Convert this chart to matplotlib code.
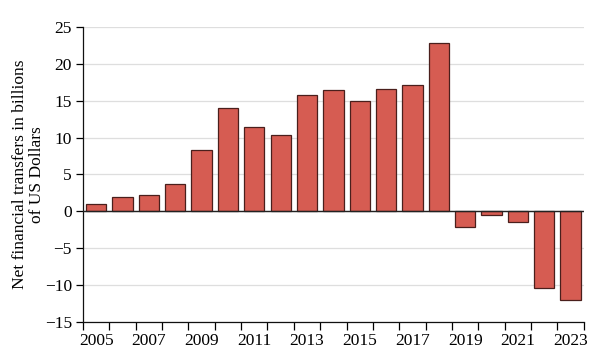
import matplotlib.pyplot as plt
from matplotlib.ticker import FixedLocator, FuncFormatter

# data
years = list(range(2005, 2024))
transfers = [1.0, 1.95, 2.2, 3.65, 8.3, 14.0, 11.4, 10.3, 15.75, 16.4,
             14.9, 16.55, 17.1, 22.8, -2.1, -0.5, -1.5, -10.4, -12.0]
label_years = list(range(2005, 2024, 2))
y_ticks = [-15, -10, -5, 0, 5, 10, 15, 20, 25]

bar_color = '#d65c52'
edge_color = '#4a1f1c'

plt.rcParams['font.family'] = ['Liberation Serif', 'DejaVu Serif']

fig = plt.figure(figsize=(6.10, 3.56), dpi=100)
ax = fig.add_axes([0.136, 0.0955, 0.821, 0.829])

ax.bar(years, transfers, width=0.77, color=bar_color, edgecolor=edge_color,
       linewidth=0.9, zorder=3)

ax.set_xlim(2004.5, 2023.5)
ax.set_ylim(-15, 25)

# grid
ax.set_yticks(y_ticks)
ax.yaxis.grid(True, color='#dedede', linewidth=0.9, zorder=0)
ax.axhline(0, color='#222222', linewidth=1.0, zorder=4)

# x: labels at odd years, tick marks between bars
ax.xaxis.set_major_locator(FixedLocator(label_years))
ax.xaxis.set_minor_locator(FixedLocator([y + 0.5 for y in range(2004, 2024)]))
ax.tick_params(axis='x', which='major', length=0, pad=8, labelsize=12.5)
ax.tick_params(axis='x', which='minor', length=6, width=0.9, direction='out')
ax.tick_params(axis='y', length=5, width=0.9, pad=3, labelsize=12.5)
ax.yaxis.set_major_formatter(FuncFormatter(lambda v, p: f'{int(v)}'.replace('-', '\u2212')))

for side in ['top', 'right']:
    ax.spines[side].set_visible(False)
for side in ['left', 'bottom']:
    ax.spines[side].set_linewidth(0.9)
    ax.spines[side].set_color('#111111')

ax.set_ylabel('Net financial transfers in billions\nof US Dollars', fontsize=12.5,
              linespacing=1.1)
ax.yaxis.set_label_coords(-0.076, 0.5)

fig.savefig('out.png', dpi=100)
